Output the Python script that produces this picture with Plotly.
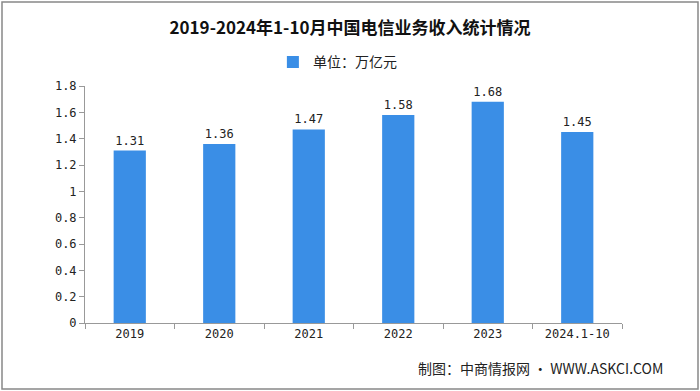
import plotly.graph_objects as go

categories = ["2019", "2020", "2021", "2022", "2023", "2024.1-10"]
values = [1.31, 1.36, 1.47, 1.58, 1.68, 1.45]
series_name = "单位：万亿元"
title_text = "<b>2019-2024年1-10月中国电信业务收入统计情况</b>"
source_text = "制图：中商情报网 · WWW.ASKCI.COM"
y_ticks = [0, 0.2, 0.4, 0.6, 0.8, 1, 1.2, 1.4, 1.6, 1.8]

font_cjk = "Noto Sans CJK SC"
num_font = "DejaVu Sans Mono, monospace"
bar_color = "#3A8EE6"

fig = go.Figure()
fig.add_trace(go.Bar(
    x=categories, y=values, name=series_name,
    marker=dict(color=bar_color, line=dict(width=0)),
    width=0.36,
    text=[f"{v:.2f}" for v in values],
    textposition="outside",
    textfont=dict(family=num_font, size=12, color="#222"),
    cliponaxis=False,
    showlegend=True,
))

fig.update_layout(
    width=700, height=391,
    margin=dict(l=85, r=78, t=86, b=68),
    paper_bgcolor="white", plot_bgcolor="white",
    title=dict(text=title_text, x=0.5, xanchor="center", y=1 - 28 / 391, yanchor="middle",
               font=dict(family=font_cjk, size=17, color="#111")),
    legend=dict(orientation="h", x=0.47, xanchor="center", y=1.1, yanchor="middle",
                itemwidth=30,
                font=dict(family=font_cjk, size=14, color="#222"), bgcolor="rgba(0,0,0,0)"),
    xaxis=dict(showline=True, linecolor="#999", linewidth=1, ticks="outside", ticklen=5,
               tickcolor="#999", tickson="boundaries", showgrid=False,
               tickfont=dict(family=num_font, size=12, color="#222")),
    yaxis=dict(range=[0, 1.8], tickvals=y_ticks, ticktext=[("%g" % t) for t in y_ticks],
               showline=True, linecolor="#999", linewidth=1, ticks="outside", ticklen=5,
               tickcolor="#999", showgrid=False, zeroline=False,
               tickfont=dict(family=num_font, size=12, color="#222")),
    bargap=0.5,
    shapes=[dict(type="rect", xref="paper", yref="paper",
                 x0=-83 / 537, x1=1 + 76 / 537, y0=-66 / 237, y1=1 + 84 / 237,
                 line=dict(color="#888", width=1.5), fillcolor="rgba(0,0,0,0)")],
    annotations=[dict(text=source_text, xref="paper", yref="paper",
                      x=1 + 43 / 537, xanchor="right", y=-45 / 237, yanchor="middle",
                      showarrow=False, font=dict(family=font_cjk, size=14, color="#222"))],
)

fig.write_html("out.html", config={"displayModeBar": False},
               post_script="document.body.style.margin='0';document.body.style.overflow='hidden';")
